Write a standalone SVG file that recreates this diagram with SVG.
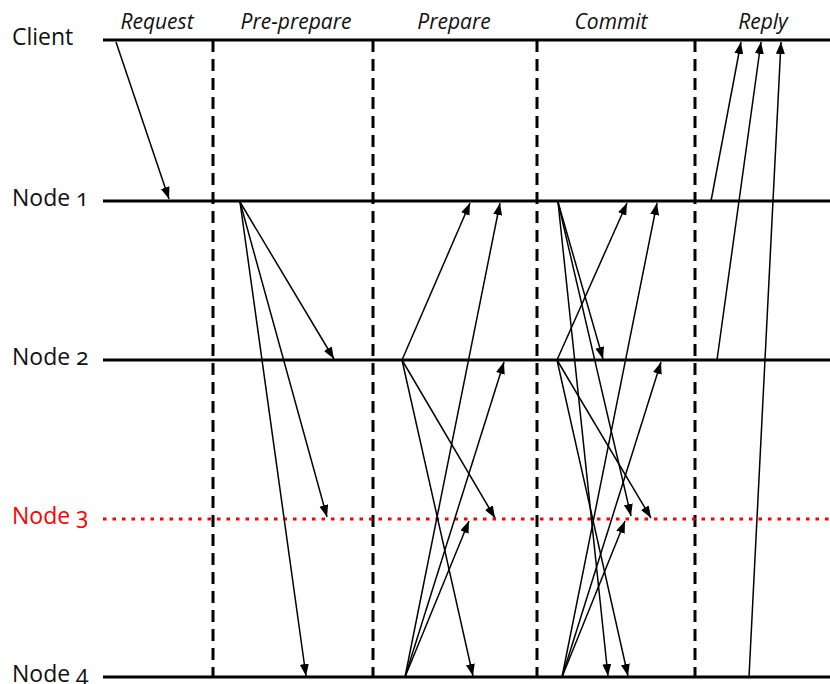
<svg xmlns="http://www.w3.org/2000/svg" width="830" height="684" viewBox="0 0 830 684">
<style>
.lbl{font-family:"Open Sans","Noto Sans",sans-serif;font-size:23px;fill:#111;font-variant-numeric:oldstyle-nums;font-feature-settings:"onum" 1}
.hdr{font-family:"Open Sans","Noto Sans",sans-serif;font-size:21px;font-style:italic;fill:#111;text-anchor:middle}
.tl{stroke:#000;stroke-width:3;fill:none}
.dash{stroke:#000;stroke-width:3;stroke-dasharray:12 7;fill:none}
.dot{stroke:#ff0000;stroke-width:3;stroke-dasharray:3.5 6;fill:none}
.msg{stroke:#000;stroke-width:1.5;fill:none;marker-end:url(#ah)}
</style>
<defs>
<marker id="ah" markerUnits="userSpaceOnUse" markerWidth="13" markerHeight="10" refX="12" refY="4.5" orient="auto">
<path d="M0,0 L12,4.5 L0,9 z" fill="#000"/>
</marker>
</defs>
<rect width="830" height="684" fill="#fff"/>
<g id="phases">
<text class="hdr" x="157" y="29">Request</text>
<text class="hdr" x="296" y="29">Pre-prepare</text>
<text class="hdr" x="454" y="29">Prepare</text>
<text class="hdr" x="611" y="29">Commit</text>
<text class="hdr" x="763" y="29">Reply</text>
</g>
<g id="dividers">
<line class="dash" x1="213" y1="40" x2="213" y2="677"/>
<line class="dash" x1="373" y1="40" x2="373" y2="677"/>
<line class="dash" x1="537" y1="40" x2="537" y2="677"/>
<line class="dash" x1="695" y1="40" x2="695" y2="677"/>
</g>
<g id="client">
<text class="lbl" x="12" y="45">Client</text>
<line class="tl" x1="103" y1="40" x2="830" y2="40"/>
</g>
<g id="node1">
<text class="lbl" x="12" y="206">Node 1</text>
<line class="tl" x1="103" y1="201" x2="830" y2="201"/>
</g>
<g id="node2">
<text class="lbl" x="12" y="365">Node 2</text>
<line class="tl" x1="103" y1="360" x2="830" y2="360"/>
</g>
<g id="node3">
<text class="lbl" x="12" y="524" style="fill:#ff0000">Node 3</text>
<line class="dot" x1="103" y1="519" x2="830" y2="519"/>
</g>
<g id="node4">
<text class="lbl" x="12" y="682">Node 4</text>
<line class="tl" x1="103" y1="677" x2="830" y2="677"/>
</g>
<g id="connectors">
<!-- Request -->
<line class="msg" x1="116" y1="42" x2="169" y2="199"/>
<!-- Pre-prepare -->
<line class="msg" x1="240" y1="202" x2="334" y2="359"/>
<line class="msg" x1="240" y1="202" x2="327" y2="517"/>
<line class="msg" x1="240" y1="202" x2="306" y2="676"/>
<!-- Prepare -->
<line class="msg" x1="402" y1="360" x2="470" y2="203"/>
<line class="msg" x1="402" y1="360" x2="495" y2="518"/>
<line class="msg" x1="402" y1="360" x2="473" y2="676"/>
<line class="msg" x1="405" y1="677" x2="500" y2="203"/>
<line class="msg" x1="405" y1="677" x2="504" y2="362"/>
<line class="msg" x1="405" y1="677" x2="469" y2="521"/>
<!-- Commit -->
<line class="msg" x1="558" y1="202" x2="603" y2="359"/>
<line class="msg" x1="558" y1="202" x2="631" y2="516"/>
<line class="msg" x1="558" y1="202" x2="608" y2="676"/>
<line class="msg" x1="557" y1="360" x2="627" y2="203"/>
<line class="msg" x1="557" y1="360" x2="651" y2="518"/>
<line class="msg" x1="557" y1="360" x2="628" y2="676"/>
<line class="msg" x1="562" y1="677" x2="657" y2="203"/>
<line class="msg" x1="562" y1="677" x2="661" y2="362"/>
<line class="msg" x1="562" y1="677" x2="625" y2="521"/>
<!-- Reply -->
<line class="msg" x1="711" y1="201" x2="741" y2="42"/>
<line class="msg" x1="717" y1="360" x2="761" y2="42"/>
<line class="msg" x1="749" y1="677" x2="781" y2="42"/>
</g>
</svg>
